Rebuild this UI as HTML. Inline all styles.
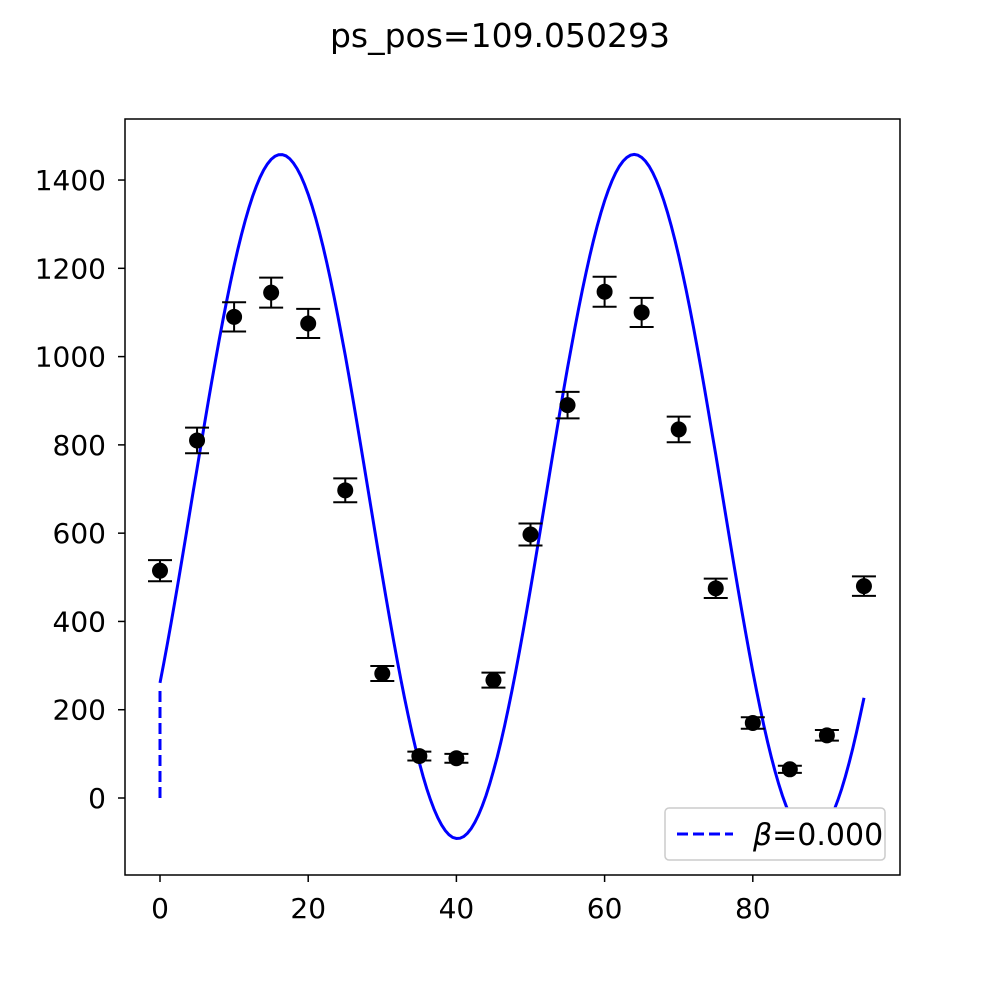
<!DOCTYPE html>
<html><head><meta charset="utf-8"><style>
body{margin:0;background:#fff}
svg{display:block;font-family:"DejaVu Sans","Liberation Sans",sans-serif}
</style></head><body>
<svg id="chart" width="1000" height="1000" viewBox="0 0 1000 1000">
<rect width="1000" height="1000" fill="#fff"/>
<text x="500" y="47" text-anchor="middle" font-size="33">ps_pos=109.050293</text>
<g id="plot"></g>
<rect x="125" y="119" width="775" height="756" fill="none" stroke="#000" stroke-width="1.5"/>
<g>
<rect x="665" y="808" width="220" height="52" rx="4" fill="#fff" stroke="#ccc" stroke-width="1.5"/>
<line x1="677" y1="834" x2="733" y2="834" stroke="#0000ff" stroke-width="3" stroke-dasharray="11,5"/>
<text x="753" y="845" font-size="30"><tspan font-style="italic">β</tspan>=0.000</text>
</g>
</svg>
<script>
const xs=[0,5,10,15,20,25,30,35,40,45,50,55,60,65,70,75,80,85,90,95];
const ys=[515,810,1090,1145,1075,697,282,95,90,267,597,890,1147,1100,835,475,170,65,142,480];
const errs=[24,29,33,34,33,27,17,10,10,17,25,30,34,33,29,22,13,8,12,22];
const xTicks=[0,20,40,60,80];
const yTicks=[0,200,400,600,800,1000,1200,1400];
const fitParams=[683,775,47.7,16.3]; // offset, amplitude, period, peak
const dashSeg=[0,250];
const X=v=>160+v*7.41, Y=v=>798-v*0.4414;
const NS="http://www.w3.org/2000/svg";
const g=document.getElementById('plot');
function el(t,a){const e=document.createElementNS(NS,t);for(const k in a)e.setAttribute(k,a[k]);g.appendChild(e);return e;}
xTicks.forEach(t=>{
 const l=el('line',{x1:X(t),x2:X(t),y1:875,y2:882,stroke:'#000','stroke-width':1.5});
 
 
 const s=el('text',{x:X(t),y:918,'font-size':28,'text-anchor':'middle'});s.textContent=t;
 
 
});
yTicks.forEach(t=>{
 const l=el('line',{x1:118,x2:125,y1:Y(t),y2:Y(t),stroke:'#000','stroke-width':1.5});
 
 
 const s=el('text',{x:106,y:Y(t)+10,'font-size':28,'text-anchor':'end'});s.textContent=t;
 
 
});
let pts=[];
for(let x=0;x<=95;x+=0.5){
 const v=fitParams[0]+fitParams[1]*Math.cos(2*Math.PI*(x-fitParams[3])/fitParams[2]);
 pts.push(X(x).toFixed(1)+','+Y(v).toFixed(1));
}
const fit=el('polyline',{points:pts.join(' '),fill:'none',stroke:'#0000ff','stroke-width':3});


const d=el('line',{x1:X(0),x2:X(0),y1:Y(dashSeg[0]),y2:Y(dashSeg[1]),stroke:'#0000ff','stroke-width':3,'stroke-dasharray':'11,5'});


xs.forEach((x,i)=>{
 const cx=X(x),top=Y(ys[i]+errs[i]),bot=Y(ys[i]-errs[i]);
 const e=el('path',{d:`M${cx},${top}V${bot}M${cx-12},${top}H${cx+12}M${cx-12},${bot}H${cx+12}`,stroke:'#000','stroke-width':2,fill:'none'});
 
 
 const c=el('circle',{cx:cx,cy:Y(ys[i]),r:8,fill:'#000'});
 
 
});
</script>
</body></html>
